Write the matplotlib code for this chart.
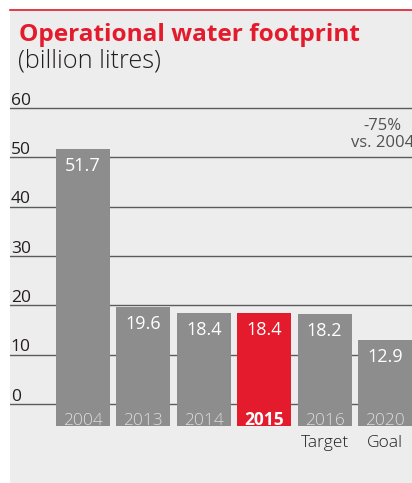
import matplotlib
matplotlib.use("Agg")
import matplotlib.pyplot as plt
from matplotlib.patches import Rectangle

categories = ["2004", "2013", "2014", "2015", "2016", "2020"]
values = [51.7, 19.6, 18.4, 18.4, 18.2, 12.9]
value_labels = ["51.7", "19.6", "18.4", "18.4", "18.2", "12.9"]
sub_labels = ["", "", "", "", "Target", "Goal"]
highlight = "2015"
yticks = [0, 10, 20, 30, 40, 50, 60]
title = "Operational water footprint"
subtitle = "(billion litres)"
note = "-75%\nvs. 2004"

FONT = ["Open Sans", "DejaVu Sans"]
plt.rcParams["font.family"] = FONT

W, H = 412, 483
fig = plt.figure(figsize=(W / 100, H / 100), dpi=100)
fig.patch.set_facecolor("white")

def fx(px):
    return px / W

def fy(py):
    return 1 - py / H

# panel background
bg = fig.add_axes([0, 0, 1, 1], zorder=-5)
bg.set_xlim(0, 1)
bg.set_ylim(0, 1)
bg.axis("off")
bg.add_patch(Rectangle((fx(10), 0), 1 - fx(10), fy(9), facecolor="#ededed",
                       edgecolor="none"))
bg.plot([fx(10), 1], [fy(9.5), fy(9.5)], color="#e31b2c", lw=1.2)

fig.text(fx(19), fy(41), title, color="#e31b2c", fontsize=17.6, fontweight="bold",
         va="baseline", ha="left")
fig.text(fx(18), fy(67.5), subtitle, color="#231f20", fontsize=18.2, fontweight="light",
         va="baseline", ha="left")

# axes geometry in pixels
px_per_unit = (404 - 108) / 60.0
ax_top, ax_bot = 95, 432
ax = fig.add_axes([fx(10), fy(ax_bot), 1 - fx(10), (ax_bot - ax_top) / H], zorder=1)
ax.set_facecolor("none")
ylim_lo = -(ax_bot - 404) / px_per_unit
ylim_hi = 60 + (108 - ax_top) / px_per_unit
ax.set_ylim(ylim_lo, ylim_hi)
spacing = 60.4
x_lo = (10 - 83) / spacing
x_hi = (412 - 83) / spacing
ax.set_xlim(x_lo, x_hi)
for s in ax.spines.values():
    s.set_visible(False)
ax.set_xticks([])
ax.set_yticks([])

for t in yticks:
    ax.axhline(t, color="#5a5b5d", lw=1.0, zorder=1)
    ax.annotate(str(t), xy=(0, t), xycoords=("axes fraction", "data"),
                xytext=(0.5, 2.5), textcoords="offset points", ha="left", va="baseline",
                fontsize=12.5, color="#231f20")

base = -4.4
xs = list(range(len(categories)))
colors = ["#e31b2c" if c == highlight else "#8c8d8c" for c in categories]
ax.bar(xs, [v - base for v in values], bottom=base, width=0.895, color=colors,
       edgecolor="none", zorder=2)

for x, v, lab, cat, sub in zip(xs, values, value_labels, categories, sub_labels):
    ax.annotate(lab, xy=(x, v), xytext=(0, -15.6), textcoords="offset points",
                ha="center", va="baseline", fontsize=13, color="white", zorder=3)
    bold = cat == highlight
    ax.annotate(cat, xy=(x, base), xytext=(0, 0.6), textcoords="offset points",
                ha="center", va="baseline", fontsize=12.5,
                fontweight="bold" if bold else "light",
                color="white" if bold else "#dcdcdc", zorder=3)
    if sub:
        ax.annotate(sub, xy=(x, base), xytext=(0, -15), textcoords="offset points",
                    ha="center", va="baseline", fontsize=12.5, color="#231f20",
                    fontweight="light", annotation_clip=False)

ax.annotate(note, xy=(5, 51.3), xytext=(-1.5, 0), textcoords="offset points",
            ha="center", va="bottom", fontsize=12, color="#505153",
            linespacing=1.05, multialignment="center", fontweight="normal",
            annotation_clip=False)

fig.savefig("out.png", dpi=100, facecolor=fig.get_facecolor())
